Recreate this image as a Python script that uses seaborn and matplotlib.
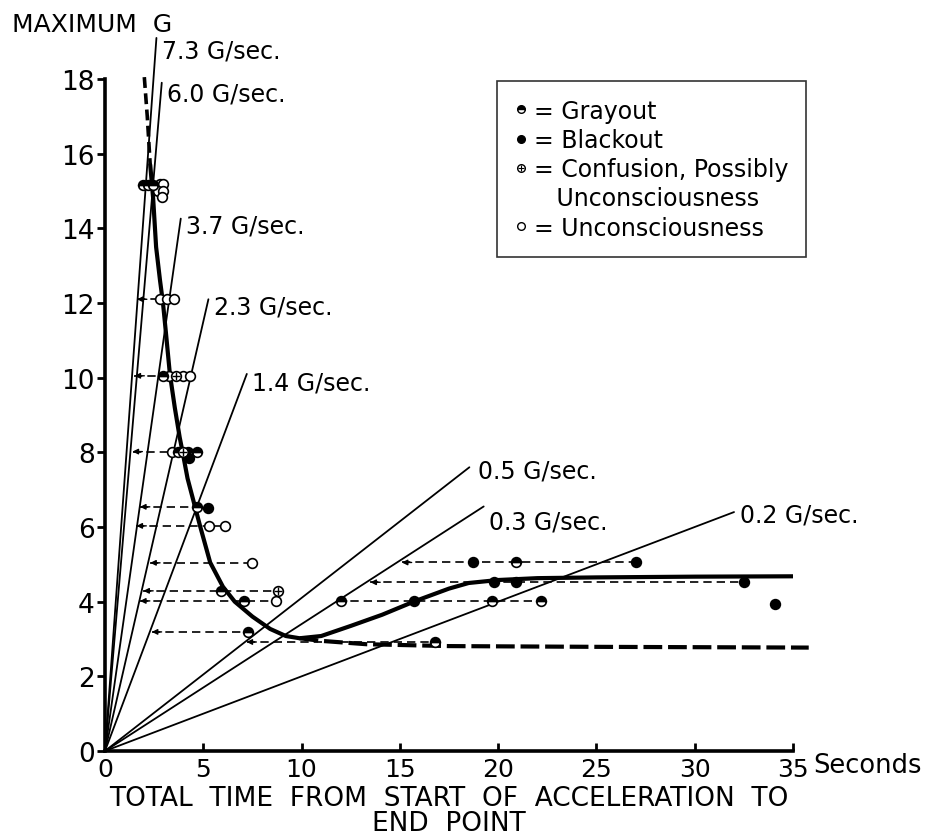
import numpy as np
import pandas as pd
import matplotlib
matplotlib.use("Agg")
import matplotlib.pyplot as plt
import seaborn as sns
from matplotlib.lines import Line2D
from matplotlib.legend_handler import HandlerTuple

# ---------------- data ----------------
rate_labels = ["7.3 G/sec.", "6.0 G/sec.", "3.7 G/sec.", "2.3 G/sec.", "1.4 G/sec.",
               "0.5 G/sec.", "0.3 G/sec.", "0.2 G/sec."]
rate_slopes = [7.3, 6.2, 3.7, 2.3, 1.4, 0.41, 0.34, 0.2]          # as drawn
rate_end_g = [19.1, 17.9, 14.26, 12.1, 10.1, 7.6, 6.55, 6.4]       # where each line stops

# thick curve (solid): descending branch then rising plateau
curve_t = [2.3, 2.45, 2.6, 2.8, 2.95, 3.1, 3.3, 3.55, 3.8, 3.95, 4.2, 4.6, 4.85, 5.35,
           6.0, 6.6, 7.5, 8.4, 9.2, 9.9, 11.0, 12.5, 14.1, 15.8, 17.5, 18.5, 20.0,
           22.0, 25.0, 30.0, 35.3]
curve_g = [15.7, 14.8, 13.5, 12.6, 12.0, 11.2, 10.1, 9.2, 8.4, 8.0, 7.3, 6.5, 6.0, 5.05,
           4.4, 4.0, 3.6, 3.27, 3.08, 3.02, 3.08, 3.35, 3.65, 4.02, 4.35, 4.5, 4.58,
           4.63, 4.65, 4.67, 4.68]
# dashed parts of the thick curve
dash_top_t = [2.0, 2.15, 2.3]
dash_top_g = [18.05, 17.0, 15.7]
dash_low_t = [9.9, 11.0, 13.3, 17.5, 25.0, 35.8]
dash_low_g = [3.02, 2.95, 2.86, 2.81, 2.79, 2.77]

grayout_t = [1.93, 2.19, 2.44, 2.95, 3.7, 4.22, 4.68, 4.7, 5.9, 7.07, 7.27, 12.0, 19.7, 22.2, 20.9, 16.8]
grayout_g = [15.15, 15.15, 15.15, 10.05, 8.02, 8.02, 8.02, 6.54, 4.29, 4.02, 3.19, 4.02, 4.02, 4.02, 5.05, 2.92]
blackout_t = [4.27, 5.25, 15.7, 19.8, 20.9, 32.5, 18.7, 27.0, 34.1]
blackout_g = [7.86, 6.5, 4.02, 4.52, 4.52, 4.52, 5.05, 5.05, 3.93]
confusion_t = [3.6, 3.97, 8.8]
confusion_g = [10.05, 8.02, 4.29]
uncons_t = [2.8, 2.96, 2.71, 2.96, 2.88, 2.8, 3.15, 3.5, 3.25, 3.95, 4.3, 3.4, 5.3, 6.1, 7.5, 8.7]
uncons_g = [15.2, 15.2, 15.0, 15.0, 14.85, 12.1, 12.1, 12.1, 10.05, 10.05, 10.05, 8.02, 6.03, 6.03, 5.04, 4.02]

# dashed arrows: level G, arrow tip time, far end time
arrow_g = [12.1, 10.05, 8.02, 6.54, 6.03, 5.04, 4.29, 4.02, 3.19, 2.92, 4.02, 4.52, 5.05]
arrow_tip = [1.63, 1.5, 1.4, 1.78, 1.6, 2.3, 1.95, 1.78, 2.38, 7.2, 11.8, 13.5, 15.1]
arrow_end = [2.8, 2.95, 3.4, 4.7, 5.3, 7.5, 8.8, 8.7, 7.27, 16.8, 22.2, 32.5, 27.0]

# short solid connector between two open circles at 6 G
link_t = [5.3, 6.1]
link_g = [6.03, 6.03]

x_ticks = [0, 5, 10, 15, 20, 25, 30, 35]
y_ticks = [0, 2, 4, 6, 8, 10, 12, 14, 16, 18]

legend_labels = ["= Grayout", "= Blackout", "= Confusion, Possibly", "   Unconsciousness",
                 "= Unconsciousness"]

# label offsets (points) from each rate line's end
label_dx = [4, 4, 4, 4, 4, 6, 4, 4]
label_dy = [-9, -8, -5, -5, -6, -2, -11, -2]

# ---------------- style ----------------
sns.set_theme(style="white")
plt.rcParams["font.family"] = ["DejaVu Sans"]
plt.rcParams["text.color"] = "black"
plt.rcParams["axes.labelcolor"] = "black"
plt.rcParams["xtick.color"] = "black"
plt.rcParams["ytick.color"] = "black"

fig = plt.figure(figsize=(9.27, 8.37), dpi=100)
W, H = 927, 837
ax = fig.add_axes([105 / W, (H - 752) / H, 688 / W, 672 / H])
ax.set_facecolor("white")

# rate lines
for s, ge in zip(rate_slopes, rate_end_g):
    df = pd.DataFrame({"t": [0, ge / s], "g": [0, ge]})
    sns.lineplot(data=df, x="t", y="g", ax=ax, color="black", lw=1.3,
                 estimator=None, sort=False, clip_on=False)
for lab, s, ge, dx, dy in zip(rate_labels, rate_slopes, rate_end_g, label_dx, label_dy):
    ax.annotate(lab, xy=(ge / s, ge), xytext=(dx, dy), textcoords="offset points",
                ha="left", va="center", fontsize=17, color="black", annotation_clip=False)

# dashed arrows
for g, tip, end in zip(arrow_g, arrow_tip, arrow_end):
    ax.plot([tip, end], [g, g], color="black", lw=1.2, ls=(0, (5, 3)))
    ax.annotate("", xy=(tip, g), xytext=(tip + 0.5, g),
                arrowprops=dict(arrowstyle="-|>", color="black", lw=1.0,
                                mutation_scale=8, shrinkA=0, shrinkB=0))
ax.plot(link_t, link_g, color="black", lw=1.2)

# thick curve
sns.lineplot(x=curve_t, y=curve_g, ax=ax, color="black", lw=3.0, estimator=None, sort=False)
sns.lineplot(x=dash_top_t, y=dash_top_g, ax=ax, color="black", lw=2.6, estimator=None,
             sort=False, clip_on=False, linestyle=(0, (3, 1.5)))
sns.lineplot(x=dash_low_t, y=dash_low_g, ax=ax, color="black", lw=3.0, estimator=None,
             sort=False, clip_on=False, linestyle=(0, (4.5, 1.4)))

# points
ms = 7
ax.plot(uncons_t, uncons_g, ls="none", marker="o", ms=ms, mfc="white", mec="black", mew=1.2, zorder=5)
ax.plot(grayout_t, grayout_g, ls="none", marker="o", ms=ms, fillstyle="top", mfc="black",
        markerfacecoloralt="white", mec="black", mew=1.2, zorder=5)
ax.plot(blackout_t, blackout_g, ls="none", marker="o", ms=ms, mfc="black", mec="black", mew=1.2, zorder=5)
ax.plot(confusion_t, confusion_g, ls="none", marker="o", ms=ms, mfc="white", mec="black", mew=1.2, zorder=5)
ax.plot(confusion_t, confusion_g, ls="none", marker="+", ms=ms - 1, mec="black", mew=1.0, zorder=6)

# axes styling
ax.set_xlim(0, 35)
ax.set_ylim(0, 18)
ax.set_xlabel("")
ax.set_ylabel("")
for s in ["top", "right"]:
    ax.spines[s].set_visible(False)
for s in ["left", "bottom"]:
    ax.spines[s].set_color("black")
    ax.spines[s].set_linewidth(2.6)
ax.set_xticks(x_ticks)
ax.set_yticks(y_ticks)
ax.tick_params(axis="x", direction="in", length=6, width=2, pad=4, labelsize=18, colors="black")
ax.tick_params(axis="y", direction="out", length=6, width=2, pad=1.5, labelsize=19, colors="black")
ax.tick_params(left=True, bottom=True)

# legend
lms = 5.5
h_gray = Line2D([], [], ls="none", marker="o", ms=lms, fillstyle="top", mfc="black",
                markerfacecoloralt="white", mec="black", mew=1)
h_black = Line2D([], [], ls="none", marker="o", ms=lms, mfc="black", mec="black")
h_conf = (Line2D([], [], ls="none", marker="o", ms=lms, mfc="white", mec="black", mew=1),
          Line2D([], [], ls="none", marker="+", ms=lms - 1.5, mec="black", mew=0.8))
h_none = Line2D([], [], ls="none", marker="none")
h_unc = Line2D([], [], ls="none", marker="o", ms=lms, mfc="white", mec="black", mew=1)
leg = ax.legend([h_gray, h_black, h_conf, h_none, h_unc], legend_labels,
                handler_map={tuple: HandlerTuple(ndivide=1, pad=0)},
                loc="upper left", bbox_to_anchor=(0.57, 0.997), frameon=True, fancybox=False,
                edgecolor="black", fontsize=17, handlelength=0.5, handletextpad=0.3,
                labelspacing=0.22, borderpad=0.75, borderaxespad=0)
leg.get_frame().set_linewidth(1.2)
for t in leg.get_texts():
    t.set_color("black")

# texts
fig.text(12 / W, 1 - 25 / H, "MAXIMUM  G", ha="left", va="center", fontsize=18, color="black")
fig.text(813 / W, 1 - 766 / H, "Seconds", ha="left", va="center", fontsize=18.5, color="black")
fig.text(449 / W, 1 - 812 / H, "TOTAL  TIME  FROM  START  OF  ACCELERATION  TO\nEND  POINT",
         ha="center", va="center", multialignment="center", linespacing=0.95,
         fontsize=19, color="black")

fig.savefig("out.png", dpi=100, facecolor="white")
